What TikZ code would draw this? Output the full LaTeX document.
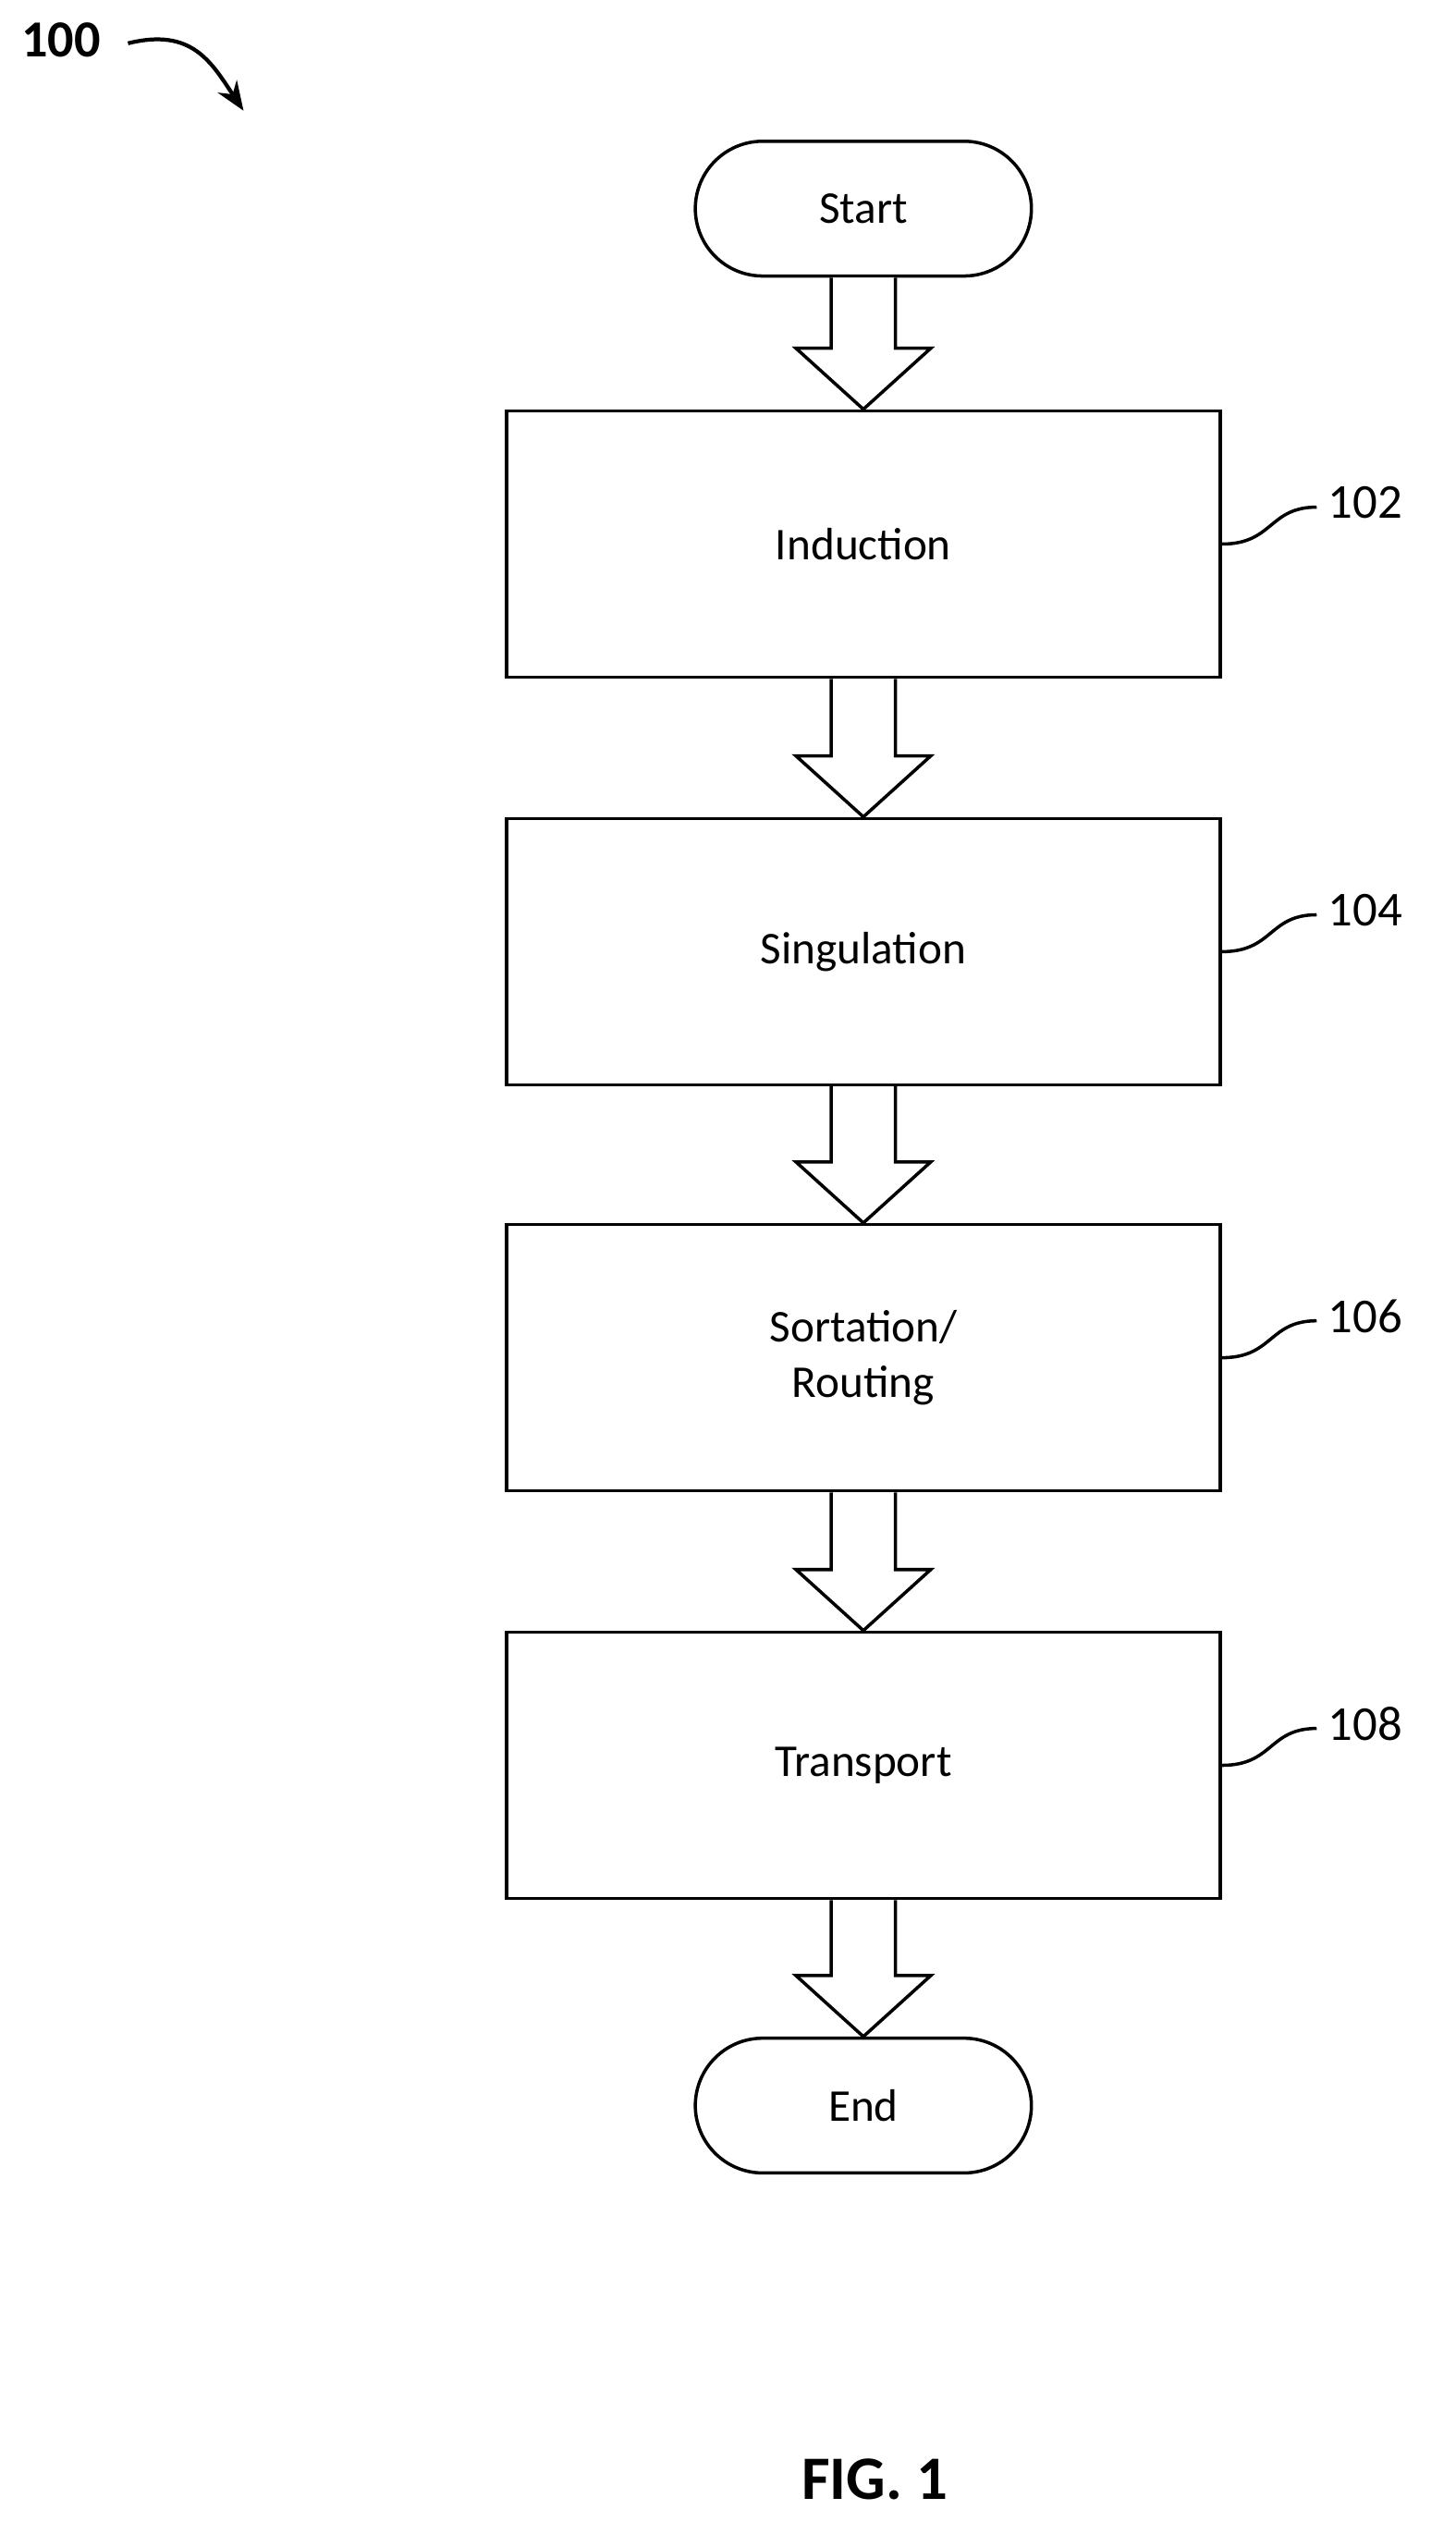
\documentclass[tikz,border=0pt]{standalone}
\usepackage{fontspec}
\setmainfont{Carlito}
\usetikzlibrary{positioning,calc,shapes.misc,arrows.meta}

\tikzset{
  procbox/.style={draw, line width=1pt, minimum width=7.725cm, minimum height=2.882cm, align=center, font=\fontsize{14}{17}\selectfont},
  termbox/.style={draw, line width=1pt, rounded rectangle, minimum width=3.871cm, minimum height=1.458cm, font=\fontsize{14}{17}\selectfont},
  blockarrow/.style={draw, line width=1pt, fill=white, line join=miter},
  reflabel/.style={font=\fontsize{15}{18}\selectfont, anchor=west},
  leadline/.style={line width=1pt}
}
\newcommand{\flowarrow}[2]{%
  \draw[blockarrow] ($(#1.south)+(-20,0)$) -- ($(#2.north)+(-20,-38)$) -- ($(#2.north)+(-42,-38)$)
    -- (#2.north) -- ($(#2.north)+(42,-38)$) -- ($(#2.north)+(20,-38)$) -- ($(#1.south)+(20,0)$);}
\newcommand{\leadto}[3]{%
  \node[reflabel] (#2) at ($(#1.east)+(59,-26)$) {#3};
  \draw[leadline] (#1.east) .. controls +(32,0) and +(-30,0) .. ($(#2.west)+(0,3)$);}

\begin{document}
\begin{tikzpicture}[x=0.01736cm, y=-0.01736cm]
\useasboundingbox (0,0) rectangle (907,1571.5);
% reference label
\node[font=\bfseries\fontsize{16}{19}\selectfont] (fig) at (38,25) {100};
\draw[line width=1.2pt, -{Stealth[length=9pt,width=7pt]}] ($(fig.east)+(10,2)$) .. controls +(40,-10) and +(-20,-30) .. +(72,42);

% flow steps
\node[termbox] (start) at (538,130) {Start};
\node[procbox] (ind) at (538,339) {Induction};
\node[procbox] (sing) at (538,593) {Singulation};
\node[procbox] (sort) at (538,846) {Sortation/\\Routing};
\node[procbox] (trans) at (538,1100) {Transport};
\node[termbox] (end) at (538,1312) {End};

\flowarrow{start}{ind}
\flowarrow{ind}{sing}
\flowarrow{sing}{sort}
\flowarrow{sort}{trans}
\flowarrow{trans}{end}

\leadto{ind}{l102}{102}
\leadto{sing}{l104}{104}
\leadto{sort}{l106}{106}
\leadto{trans}{l108}{108}

\node[font=\bfseries\fontsize{19}{22}\selectfont] (cap) at (545,1545) {FIG. 1};
\end{tikzpicture}
\end{document}
